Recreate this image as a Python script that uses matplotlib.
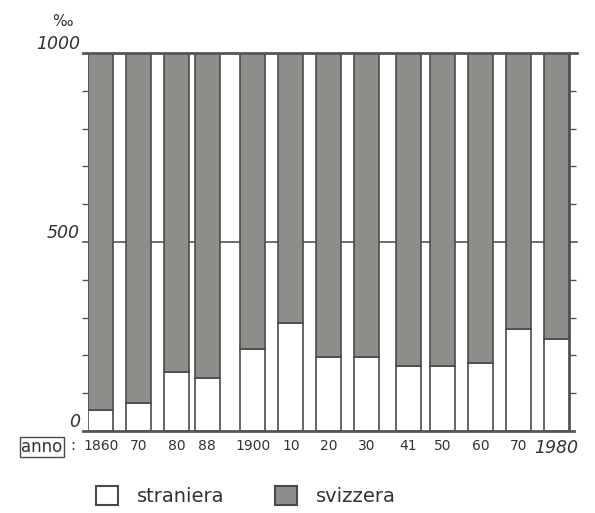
import matplotlib
matplotlib.use("Agg")
import matplotlib.pyplot as plt
from matplotlib.patches import Patch

years = [1860, 1870, 1880, 1888, 1900, 1910, 1920, 1930, 1941, 1950, 1960, 1970, 1980]
year_labels = ["1860", "70", "80", "88", "1900", "10", "20", "30", "41", "50", "60", "70", "1980"]
straniera = [56, 73, 155, 141, 217, 286, 196, 195, 171, 171, 181, 270, 243]
svizzera = [1000 - s for s in straniera]

TXT = "#333333"
EDGE = "#4a4a4a"
GRAY = "#8d8d89"

fig = plt.figure(figsize=(5.95, 5.13), dpi=100)
ax = fig.add_axes([88 / 595, 1 - 431 / 513, (569.5 - 88) / 595, (431 - 53) / 513])

width = 6.6
ax.bar(years, straniera, width=width, color="white", edgecolor=EDGE, linewidth=1.2, zorder=3)
ax.bar(years, svizzera, width=width, bottom=straniera, color=GRAY, edgecolor=EDGE,
       linewidth=1.2, zorder=3)

x0, x1 = 1856.6, 1983.4
ax.set_xlim(x0, x1)
ax.set_ylim(0, 1000)

# reference lines
ax.plot([x0 - 1.3, x1 + 2.0], [1000, 1000], color="#555555", lw=2.0, clip_on=False, zorder=4)
ax.plot([x0 - 1.3, x1 + 1.2], [0, 0], color="#555555", lw=2.0, clip_on=False, zorder=4)
ax.plot([x0 - 1.3, x1 + 2.0], [500, 500], color="#555555", lw=1.2, clip_on=False, zorder=1)

for s in ["top", "bottom", "left"]:
    ax.spines[s].set_visible(False)
ax.spines["right"].set_color(EDGE)
ax.spines["right"].set_linewidth(1.2)

ax.set_yticks([0, 500, 1000])
ax.set_yticklabels(["0", "500", "1000"])
ax.set_yticks(range(100, 1000, 100), minor=True)
ax.tick_params(axis="y", which="major", length=0, pad=6, labelsize=12.5, labelcolor=TXT)
ax.tick_params(axis="y", which="minor", length=4, width=1.0, color="#555555",
               direction="out", left=True, right=True)
for lbl in ax.get_yticklabels():
    lbl.set_fontstyle("italic")
    lbl.set_va("bottom")

ax.set_xticks(years)
ax.set_xticklabels(year_labels)
ax.tick_params(axis="x", length=0, pad=6, labelsize=10, labelcolor=TXT)
last = ax.get_xticklabels()[-1]
last.set_fontstyle("italic")
last.set_fontsize(12.5)
last.set_va("top")

fig.text(52 / 595, 1 - 22 / 513, "‰", fontsize=11, color=TXT, ha="left", va="center")
fig.text(42 / 595, 1 - 447 / 513, "anno", fontsize=12, color=TXT, ha="center", va="center",
         bbox=dict(boxstyle="square,pad=0.08", fc="white", ec=EDGE, lw=1.0))
fig.text(73 / 595, 1 - 446 / 513, ":", fontsize=10.5, color=TXT, ha="center", va="center")

handles = [Patch(facecolor="white", edgecolor=EDGE, linewidth=1.5, label="straniera"),
           Patch(facecolor=GRAY, edgecolor=EDGE, linewidth=1.5, label="svizzera")]
fig.legend(handles=handles, loc="center left", bbox_to_anchor=(86 / 595, 1 - 496 / 513),
           ncol=2, frameon=False, fontsize=14, handlelength=1.15, handleheight=1.15,
           handletextpad=0.95, columnspacing=2.6, borderpad=0, labelcolor=TXT)

fig.savefig("out.png", dpi=100, facecolor="white")
